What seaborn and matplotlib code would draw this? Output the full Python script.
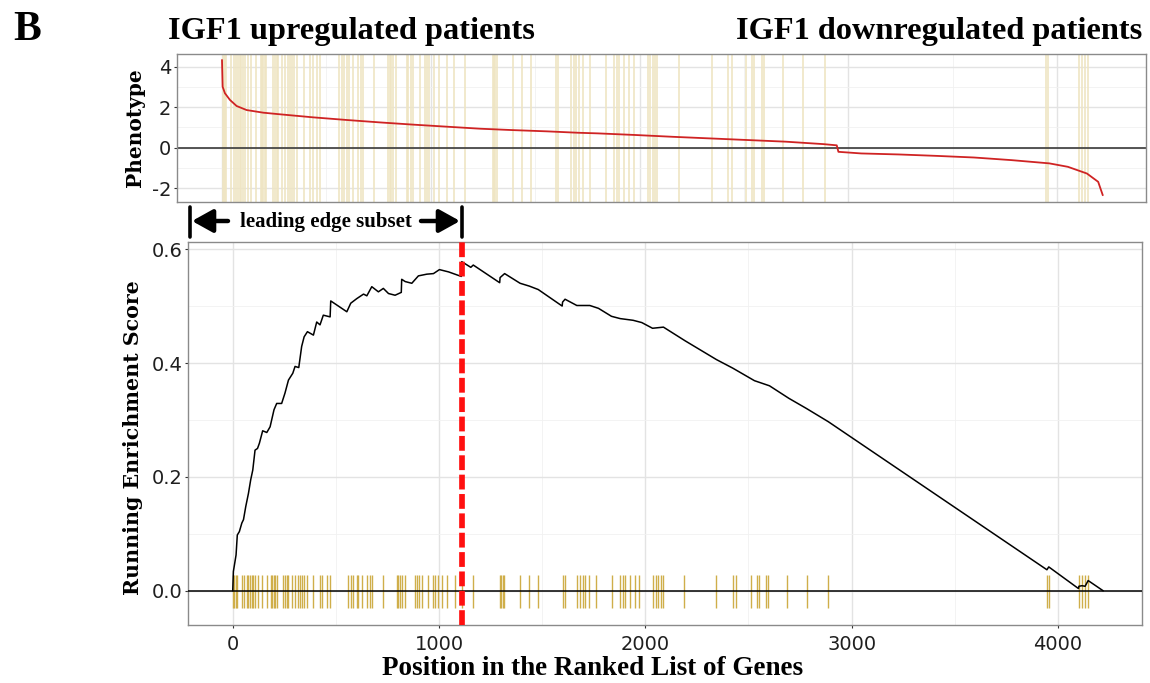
import numpy as np
import pandas as pd
import matplotlib
matplotlib.use("Agg")
import matplotlib.pyplot as plt
import seaborn as sns
from matplotlib.lines import Line2D
from matplotlib.ticker import MultipleLocator, FixedLocator

# ---------------- data ----------------
hit_positions = [3, 8, 14, 20, 43, 56, 68, 76, 84, 92, 100, 108, 124, 140, 165, 186, 192,
                 198, 205, 213, 245, 253, 262, 270, 286, 302, 318, 326, 337, 347, 358, 391,
                 423, 434, 455, 471, 560, 573, 585, 601, 609, 625, 649, 666, 674, 730, 795,
                 803, 811, 819, 835, 884, 892, 903, 916, 948, 972, 980, 993, 1013, 1037,
                 1077, 1110, 1166, 1296, 1302, 1308, 1315, 1393, 1438, 1481, 1599, 1611,
                 1671, 1684, 1697, 1708, 1729, 1761, 1837, 1877, 1890, 1902, 1926, 1950,
                 1971, 2039, 2052, 2063, 2074, 2084, 2190, 2345, 2424, 2440, 2511, 2540,
                 2550, 2585, 2597, 2685, 2782, 2887, 3947, 3956, 4102, 4117, 4132, 4147]

phenotype_pos = [0, 3, 14, 38, 70, 118, 198, 278, 437, 597, 757, 917, 1076, 1236, 1395,
                 1555, 1706, 1799, 1979, 2160, 2340, 2520, 2700, 2880, 2944, 2952, 3061,
                 3241, 3421, 3601, 3781, 3962, 4051, 4142, 4196, 4218]
phenotype_val = [4.33, 3.01, 2.69, 2.36, 2.06, 1.86, 1.73, 1.65, 1.50, 1.37, 1.25, 1.14,
                 1.04, 0.94, 0.87, 0.81, 0.74, 0.71, 0.63, 0.54, 0.46, 0.38, 0.30, 0.18,
                 0.12, -0.20, -0.28, -0.33, -0.40, -0.48, -0.61, -0.77, -0.94, -1.27,
                 -1.68, -2.34]

es_pos = [0, 3, 16, 22, 32, 44, 52, 63, 76, 87, 97, 108, 120, 129, 145, 165, 181, 200,
          213, 237, 253, 270, 291, 302, 320, 334, 346, 362, 391, 407, 423, 439, 472, 475,
          553, 572, 601, 634, 650, 674, 706, 730, 755, 787, 817, 819, 836, 868, 900, 941,
          973, 1002, 1046, 1108, 1110, 1154, 1166, 1294, 1296, 1318, 1393, 1438, 1481,
          1597, 1599, 1611, 1668, 1731, 1773, 1836, 1878, 1941, 1983, 2035, 2088, 2193,
          2345, 2424, 2529, 2602, 2696, 2782, 2887, 3947, 3956, 4100, 4102, 4117, 4132,
          4147, 4220]
es_val = [0.0, 0.034, 0.063, 0.098, 0.104, 0.119, 0.125, 0.148, 0.171, 0.195, 0.212,
          0.247, 0.250, 0.259, 0.281, 0.278, 0.288, 0.318, 0.329, 0.329, 0.347, 0.370,
          0.382, 0.394, 0.392, 0.429, 0.446, 0.455, 0.449, 0.472, 0.467, 0.484, 0.481,
          0.509, 0.490, 0.505, 0.513, 0.521, 0.518, 0.534, 0.525, 0.531, 0.522, 0.519,
          0.524, 0.547, 0.543, 0.540, 0.553, 0.556, 0.557, 0.564, 0.560, 0.552, 0.578,
          0.568, 0.572, 0.541, 0.550, 0.557, 0.540, 0.535, 0.529, 0.500, 0.507, 0.512,
          0.501, 0.501, 0.496, 0.482, 0.478, 0.475, 0.471, 0.461, 0.463, 0.439, 0.406,
          0.391, 0.369, 0.360, 0.338, 0.320, 0.297, 0.037, 0.042, 0.004, 0.008, 0.009,
          0.008, 0.018, 0.0]

leading_edge_end = 1110
x_ticks = [0, 1000, 2000, 3000, 4000]
x_tick_labels = ["0", "1000", "2000", "3000", "4000"]
es_ticks = [0.0, 0.2, 0.4, 0.6]
es_tick_labels = ["0.0", "0.2", "0.4", "0.6"]
pheno_ticks = [-2, 0, 2, 4]
pheno_tick_labels = ["-2", "0", "2", "4"]
title_left = "IGF1 upregulated patients"
title_right = "IGF1 downregulated patients"
panel_letter = "B"

# ---------------- figure ----------------
sns.set_theme(style="white")
plt.rcParams['font.family'] = ['DejaVu Sans']

W, H = 1150, 683
fig = plt.figure(figsize=(W / 100, H / 100), dpi=100)


def box(l, t, r, b):
    return [l / W, 1 - b / H, (r - l) / W, (b - t) / H]


def fx(px):
    return px / W


def fy(py):
    return 1 - py / H


ax_top = fig.add_axes(box(177, 54.3, 1146, 202.3))
ax_es = fig.add_axes(box(188, 241.7, 1142, 625))

TICK_COL = '#1f1f1f'


def style(ax):
    ax.set_facecolor('white')
    for s in ax.spines.values():
        s.set_color('#8a8a8a')
        s.set_linewidth(1.0)
        s.set_visible(True)
    ax.grid(True, which='major', color='#e3e3e3', lw=1.0)
    ax.grid(True, which='minor', color='#f1f1f1', lw=0.6)
    ax.set_axisbelow(True)
    ax.tick_params(which='major', length=2.5, width=0.8, color='#333333',
                   labelsize=14, labelcolor=TICK_COL, pad=1.5,
                   left=True, bottom=True)
    ax.tick_params(which='minor', length=0)


# ---- top panel: phenotype ----
style(ax_top)
ax_top.set_xlim(-215.5, 4425)
ax_top.set_ylim(-2.69, 4.61)
ax_top.vlines(hit_positions, 0, 1, transform=ax_top.get_xaxis_transform(),
              color='#efe5c3', lw=1.2, zorder=1)
ax_top.axhline(0, color='#3a3a3a', lw=1.2, zorder=2)
pheno_df = pd.DataFrame({'pos': phenotype_pos, 'val': phenotype_val})
sns.lineplot(data=pheno_df, x='pos', y='val', ax=ax_top, color='#cf2323', lw=1.3,
             sort=False, estimator=None, zorder=3)
ax_top.xaxis.set_major_locator(FixedLocator(x_ticks))
ax_top.xaxis.set_minor_locator(MultipleLocator(500))
ax_top.yaxis.set_major_locator(FixedLocator(pheno_ticks))
ax_top.yaxis.set_minor_locator(MultipleLocator(1))
ax_top.set_yticklabels(pheno_tick_labels)
ax_top.tick_params(axis='x', which='both', length=0, labelbottom=False)
ax_top.set_xlabel('')
ax_top.set_ylabel('')

# ---- bottom panel: running enrichment score ----
style(ax_es)
ax_es.set_xlim(-217, 4408)
ax_es.set_ylim(-0.060, 0.613)
ax_es.vlines(hit_positions, -0.030, 0.028, color='#cfae4a', lw=1.0, zorder=2)
ax_es.axhline(0, color='black', lw=1.1, zorder=3)
es_df = pd.DataFrame({'pos': es_pos, 'es': es_val})
sns.lineplot(data=es_df, x='pos', y='es', ax=ax_es, color='black', lw=1.1,
             sort=False, estimator=None, zorder=4)
ax_es.axvline(leading_edge_end, color='#ff1010', lw=4.1, linestyle=(0, (2.6, 0.8)),
              zorder=5)
ax_es.xaxis.set_major_locator(FixedLocator(x_ticks))
ax_es.xaxis.set_minor_locator(MultipleLocator(500))
ax_es.set_xticklabels(x_tick_labels)
ax_es.yaxis.set_major_locator(FixedLocator(es_ticks))
ax_es.yaxis.set_minor_locator(MultipleLocator(0.1))
ax_es.set_yticklabels(es_tick_labels)
ax_es.tick_params(axis='x', pad=5)
ax_es.set_xlabel('')
ax_es.set_ylabel('')

# ---- text ----
serif_b = dict(family=['Liberation Serif', 'DejaVu Serif'], weight='bold', color='black')
wide_serif_b = dict(family=['DejaVu Serif'], weight='bold', color='black')

fig.text(fx(13), fy(40), panel_letter, ha='left', va='baseline', fontsize=30, **serif_b)
fig.text(fx(168), fy(38.5), title_left, ha='left', va='baseline', fontsize=23.3, **serif_b)
fig.text(fx(1142), fy(38.5), title_right, ha='right', va='baseline', fontsize=23.3, **serif_b)

fig.text(fx(135), fy(127.5), 'Phenotype', rotation=90, ha='center', va='center',
         fontsize=14.5, **wide_serif_b)
fig.text(fx(133), fy(437.5), 'Running Enrichment Score', rotation=90, ha='center',
         va='center', fontsize=14.8, **wide_serif_b)
fig.text(fx(592.5), fy(675), 'Position in the Ranked List of Genes', ha='center',
         va='baseline', fontsize=19.5, **serif_b)

# ---- leading edge subset annotation ----
fig.add_artist(Line2D([fx(190), fx(190)], [fy(207), fy(237)], color='black', lw=2.6))
fig.add_artist(Line2D([fx(462), fx(462)], [fy(207), fy(237)], color='black', lw=2.6))
arrow_props = dict(arrowstyle='-|>,head_length=0.9,head_width=0.5',
                   lw=3.2, color='black', shrinkA=0, shrinkB=0, mutation_scale=14)
ax_es.annotate('', xy=(192, H - 221), xytext=(228, H - 221), xycoords='figure pixels',
               textcoords='figure pixels', annotation_clip=False, arrowprops=arrow_props)
ax_es.annotate('', xy=(460, H - 221), xytext=(421, H - 221), xycoords='figure pixels',
               textcoords='figure pixels', annotation_clip=False, arrowprops=arrow_props)
fig.text(fx(326), fy(222), 'leading edge subset', ha='center', va='center',
         fontsize=15, **serif_b)

fig.savefig('out.png', dpi=100, facecolor='white')
